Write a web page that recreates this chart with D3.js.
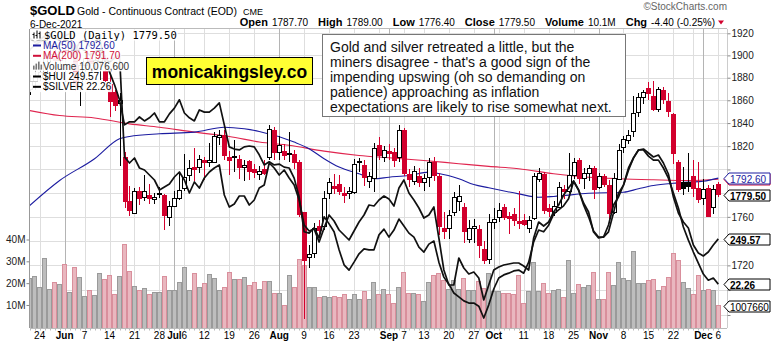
<!DOCTYPE html>
<html><head><meta charset="utf-8">
<script src="https://cdn.jsdelivr.net/npm/d3@7"></script>
<style>
body{margin:0;background:#fff}
svg{display:block;font-family:Arial,"Liberation Sans",sans-serif}
</style></head>
<body><svg id="c" width="774" height="344"></svg>
<script>
// ---------- DATA ----------
const dates = [
"2021-05-20","2021-05-21","2021-05-24","2021-05-25","2021-05-26","2021-05-27","2021-05-28",
"2021-06-01","2021-06-02","2021-06-03","2021-06-04","2021-06-07","2021-06-08","2021-06-09","2021-06-10","2021-06-11",
"2021-06-14","2021-06-15","2021-06-16","2021-06-17","2021-06-18","2021-06-21","2021-06-22","2021-06-23","2021-06-24","2021-06-25",
"2021-06-28","2021-06-29","2021-06-30",
"2021-07-01","2021-07-02","2021-07-06","2021-07-07","2021-07-08","2021-07-09","2021-07-12","2021-07-13","2021-07-14","2021-07-15","2021-07-16",
"2021-07-19","2021-07-20","2021-07-21","2021-07-22","2021-07-23","2021-07-26","2021-07-27","2021-07-28","2021-07-29","2021-07-30",
"2021-08-02","2021-08-03","2021-08-04","2021-08-05","2021-08-06","2021-08-09","2021-08-10","2021-08-11","2021-08-12","2021-08-13",
"2021-08-16","2021-08-17","2021-08-18","2021-08-19","2021-08-20","2021-08-23","2021-08-24","2021-08-25","2021-08-26","2021-08-27",
"2021-08-30","2021-08-31",
"2021-09-01","2021-09-02","2021-09-03","2021-09-07","2021-09-08","2021-09-09","2021-09-10","2021-09-13","2021-09-14","2021-09-15",
"2021-09-16","2021-09-17","2021-09-20","2021-09-21","2021-09-22","2021-09-23","2021-09-24","2021-09-27","2021-09-28","2021-09-29","2021-09-30",
"2021-10-01","2021-10-04","2021-10-05","2021-10-06","2021-10-07","2021-10-08","2021-10-11","2021-10-12","2021-10-13","2021-10-14","2021-10-15",
"2021-10-18","2021-10-19","2021-10-20","2021-10-21","2021-10-22","2021-10-25","2021-10-26","2021-10-27","2021-10-28","2021-10-29",
"2021-11-01","2021-11-02","2021-11-03","2021-11-04","2021-11-05","2021-11-08","2021-11-09","2021-11-10","2021-11-11","2021-11-12",
"2021-11-15","2021-11-16","2021-11-17","2021-11-18","2021-11-19","2021-11-22","2021-11-23","2021-11-24","2021-11-26","2021-11-29","2021-11-30",
"2021-12-01","2021-12-02","2021-12-03","2021-12-06"];

const open = [1870,1877,1881,1884,1898,1901,1896,1905,1903,1909,1872,1891,1898,1893,1895,1886,1874,1867,1858,1811,
1773,1763,1782,1777,1778,1775,1779.5,1778,1759.5,1769,1776,1784,1795,1802,1802.5,1808,1806.5,1806.5,1828,1830,
1811,1810.5,1809,1802.5,1807.5,1800.5,1796,1800,1811,1834,1815,1816,1813,1813.5,1806,1764,1727,1730,1752,1752,
1780,1786,1788,1780,1780,1781,1806,1804,1790,1793,1821,1811,1816,1815,1811,1834,1796,1790,1794,1789,
1793.5,1806,1794,1751,1750.5,1764,1773.6,1768,1742,1751,1750,1733,1725.5,1756,1759.5,1768.6,1760.5,1762,1756.5,1757,
1751,1759,1792,1796,1767,1764,1768,1783,1782,1795,1808,1793,1797,1801,1785,1794,1787,1764,1792,1819,
1825,1833,1850,1863,1871,1864,1852,1869,1859,1848,1806,1789,1789,1794,1784,1776,1784,1768,1787.7];
const high = [1882,1890,1889,1900,1913,1905,1906,1916,1911,1910,1892,1903,1903,1902,1904,1900,1882,1869,1866,1815,
1786,1784,1785,1795,1788,1780,1785,1779,1773,1782,1797,1813,1808,1818,1812,1811,1823,1832,1834,1834,
1816,1825,1812,1808,1808,1805,1803,1808,1838,1837,1829,1822,1832,1817,1808,1764,1737,1755,1757,1782,
1793,1796,1795,1785,1785,1809,1810,1808,1798,1823,1828,1820,1822,1818,1838,1836,1800,1803,1801,1796,
1810,1811,1797,1764,1766,1781,1787,1772,1757,1758,1753,1740,1762,1767,1772,1771,1764,1767,1782,1762,
1761,1797,1801,1798,1771,1773,1789,1787,1814,1810,1810,1801,1804,1803,1797,1796,1791,1797,1822,1829,
1834,1864,1866,1869,1876,1877,1872,1872,1866,1849,1808,1802,1814,1808,1806,1792,1787,1787,1789];
const low = [1865,1869,1877,1880,1893,1885,1890,1896,1899,1868,1855,1886,1888,1888,1878,1876,1845,1851,1803,1767,
1761,1762,1770,1773,1771,1771,1776,1749,1752,1768,1774,1782,1790,1790,1797,1791,1802,1806,1821,1808,
1795,1798,1792,1790,1791,1793,1791,1795,1808,1808,1808,1808,1806,1800,1760,1677,1718,1726,1745,1749,
1775,1779,1778,1772,1775,1779,1798,1786,1784,1781,1808,1806,1808,1802,1806,1794,1785,1787,1785,1782,
1785,1790,1745,1742,1742,1761,1765,1738,1738,1738,1726,1721,1721,1750,1756,1757,1746,1752,1750,1752,
1747,1757,1789,1762,1760,1761,1767,1775,1780,1792,1788,1783,1790,1775,1783,1785,1758,1762,1791,1814,
1822,1828,1845,1857,1860,1851,1850,1857,1845,1805,1781,1778,1781,1777,1772,1770,1760,1762,1776.4];
const close = [1877,1881,1885,1898,1901,1896,1904,1903,1908,1873,1891,1898,1893,1896,1899,1878,1859,1856,1860,1773,
1766,1782,1776,1782,1776,1777,1780,1761.5,1769.5,1776,1782.5,1793.5,1801.5,1800,1809,1806,1808.5,1829,1830,1812,
1808,1811.5,1802,1804,1799,1797.7,1799,1797,1835,1815,1821,1812.5,1814,1806.5,1762,1724,1729,1751,1749,1776,
1789,1784,1782,1778,1781.5,1805,1807,1793.5,1794,1818,1812,1817,1814,1808,1834,1797,1792,1798.5,1789.5,1793,
1806,1795,1752.5,1748,1761.5,1777,1777.4,1748,1750.5,1752,1737,1724,1756,1758,1765.5,1759.5,1759,1757,1755,1754,
1757,1794,1797,1766,1764.5,1769.5,1785,1781.5,1795.5,1806,1793,1797,1801,1783,1794,1788,1763,1793,1817,1826,
1830,1849,1863,1867,1866.5,1852.5,1870,1861,1851,1814,1783,1784.5,1786,1784,1775,1783,1761,1783,1779.5];
// volume in millions
const volume = [22.3,23.2,18.2,31.5,17.3,20.3,19.6,28.8,15.8,27.3,22.8,14.1,16.8,14.5,24.6,21.7,23.6,15.1,23.2,38,
25.7,18.6,17,17.7,15.1,15.9,15.9,23.2,17,17,20.4,27.3,17,24.6,18.2,20.2,24.1,22.2,17,18.2,
25.2,21.8,21.8,23,19.1,20.3,17.3,21.2,21.1,15.4,15.4,10.1,23.8,18.2,31,28.4,18.2,18.2,13.6,14.2,
13.6,14.2,13.6,14.9,12.7,15.1,12.7,16.2,12.7,20.3,14.9,17.3,14.9,10.8,18.2,25.2,15.7,15.7,14.9,12,
20.3,23.8,24.6,21.5,17.3,21.5,17.3,22.3,17,17,21.2,17.7,24.6,16.2,16.2,15.4,15.4,14.9,23.8,11.1,
16.2,29.9,16.2,20,15.4,17,17.3,13.6,30.7,15.4,19.7,18.2,19,25.3,12.7,12.7,25.3,19,29.5,22.3,
21.5,34.8,20,20,21.5,21.8,17,18.5,23,34,30.7,20.3,18,14.9,23.8,17,17.3,17,10.08];
const hui = [344,346.5,348,349,346.5,345,346.5,349,348,339,345,344,341.5,343,344,340,338,340,341.5,290.5,
287.5,290,285,284,281.5,279,274,275.5,277,280.5,283,279,272.5,278,275,280,283,285,286.5,271.5,
265.5,267,271,271,266.5,269,275,276.5,287.5,285,281.5,284,280,276.5,269,256.5,253.5,254.5,248,255,
261.5,258.5,254,251.5,249,253.5,258,261.5,266.5,266,269,271,269.5,266,275,279,272.5,269,265,260,
261.5,265.5,250,234,226.5,226.5,240,235,232,233,230,219,226.5,234,235.5,236.5,237,237.5,237.5,236,
234,250,258,256,258,263,266.5,271.5,275,278.5,274,267.5,263,253,250,250.5,256.5,266.5,270.5,276.5,
285,290,294,294.5,292.5,290.5,291.5,287.5,282,270.5,262.5,258,255,246.5,242.5,241,243,246.5,249.57];
const silver = [27.85,27.76,27.81,27.9,27.95,27.85,27.81,27.9,27.95,27.54,27.76,27.81,27.67,27.76,27.85,27.35,27.08,26.79,26.45,25.88,
25.95,25.95,26.06,25.97,26.04,26.15,25.95,25.95,26.13,26.26,26.45,26.15,26.04,25.97,26.22,26.17,26.17,26.26,26.38,25.88,
25.38,25.33,25.31,25.38,25.4,25.38,25.2,24.97,25.04,24.97,24.99,24.92,24.9,24.67,24.24,23.45,23.42,23.54,23.31,23.79,
23.63,23.45,23.04,22.7,22.58,22.76,22.95,23.06,23.04,23.04,23.38,23.51,23.33,23.49,23.74,23.58,23.42,23.33,23.1,22.99,
23.17,23.24,22.76,22.42,22.26,22.06,21.97,21.88,21.83,21.83,21.76,21.49,21.79,22.15,22.4,22.47,22.51,22.56,22.58,22.51,
22.76,23.22,23.49,23.45,23.6,23.85,23.95,24.04,24.2,24.6,24.4,24.06,23.79,23.47,23.33,23.33,23.45,23.88,24.33,24.51,
24.85,25.13,25.31,25.31,25.17,25.08,25.08,24.9,24.67,24.33,23.99,23.56,23.26,22.99,22.74,22.49,22.35,22.4,22.26];
const ma50Dates = ["2021-05-20","2021-05-28","2021-06-09","2021-06-16","2021-06-18","2021-06-28","2021-07-08","2021-07-16","2021-07-22","2021-07-27",
"2021-08-05","2021-08-10","2021-08-13","2021-08-18","2021-08-24","2021-08-27","2021-09-01","2021-09-08","2021-09-14","2021-09-16","2021-09-22",
"2021-09-27","2021-09-30","2021-10-08","2021-10-14","2021-10-19","2021-10-28","2021-11-08","2021-11-11","2021-11-16","2021-11-22","2021-11-26",
"2021-12-01","2021-12-06"];
const ma50 = [1769.5,1790.6,1809.2,1826.4,1828.4,1830.7,1832.1,1836.4,1835,1832.7,1823.5,1817.8,1809.2,1802,1796.3,1792.1,1793.4,1794.9,1797.7,1796.6,
1792.1,1787.2,1784.4,1779.3,1776.5,1777.1,1779.8,1780.7,1783.6,1786.4,1788.3,1789.2,1790,1792.6];
const ma200Dates = ["2021-05-20","2021-05-28","2021-06-09","2021-06-18","2021-06-28","2021-07-08","2021-07-19","2021-07-27","2021-08-04","2021-08-13",
"2021-08-24","2021-09-01","2021-09-13","2021-09-22","2021-09-30","2021-10-08","2021-10-19","2021-10-28","2021-11-05","2021-11-16","2021-11-26","2021-12-06"];
const ma200 = [1851,1846.6,1844.5,1839.3,1836.4,1832.1,1828.4,1823.6,1820.7,1815.7,1812,1810,1807.7,1804.9,1802.6,1800.6,1796.3,1793.4,1792.1,1791.2,1790.6,1791.7];
const priceTicks = [1680,1700,1720,1740,1760,1780,1800,1820,1840,1860,1880,1900,1920];
const volTicks = [10,20,30,40];
const tickDates = ["2021-05-24","2021-06-01","2021-06-07","2021-06-14","2021-06-21","2021-06-28","2021-07-01","2021-07-06","2021-07-12","2021-07-19",
"2021-07-26","2021-08-02","2021-08-09","2021-08-16","2021-08-23","2021-09-01","2021-09-07","2021-09-13","2021-09-20","2021-09-27",
"2021-10-01","2021-10-11","2021-10-18","2021-10-25","2021-11-01","2021-11-08","2021-11-15","2021-11-22","2021-12-01","2021-12-06"];
const tickLabels = ["24","Jun","7","14","21","28","Jul","6","12","19","26","Aug","9","16","23","Sep","7","13","20","27",
"Oct","11","18","25","Nov","8","15","22","Dec","6"];
const monthTicks = ["Jun","Jul","Aug","Sep","Oct","Nov","Dec"];
const extraGridDates = ["2021-08-30","2021-10-04","2021-11-29"];
const quote = [["Open","1787.70"],["High","1789.00"],["Low","1776.40"],["Close","1779.50"],["Volume","10.1M"],["Chg","-4.40 (-0.25%)"]];
const noteLines = ["Gold and silver retreated a little, but the",
"miners disagree - that's a good sign of the",
"impending upswing (oh so demanding on",
"patience) approaching as inflation",
"expectations are likely to rise somewhat next."];

// ---------- CHART ----------
const svg = d3.select("#c");
const P = {l:30, r:727, t:29, b:328};
const x = d3.scalePoint().domain(dates).range([29.7, 718.3]);
const yP = d3.scaleLog().domain([1680,1920]).range([315,33.3]);
const yV = d3.scaleLinear().domain([0,40]).range([326.8,239.5]);
const yH = d3.scaleLinear().domain([210,353]).range([318,32]);
const yS = d3.scaleLinear().domain([21.4,27.9]).range([322,36]);
const RED = "#d2002d";
const FONT = "Arial,'Liberation Sans',sans-serif";

svg.append("rect").attr("width",774).attr("height",344).attr("fill","#fff");
svg.append("defs").append("clipPath").attr("id","clip").append("rect")
  .attr("x",P.l).attr("y",P.t).attr("width",P.r-P.l).attr("height",P.b-P.t);

// header
svg.append("text").attr("x",30).attr("y",15).attr("font-size",13).attr("font-weight","bold").text("$GOLD");
const ttl = svg.append("text").attr("x",77).attr("y",15).attr("font-size",10.5).text("Gold - Continuous Contract (EOD)");
svg.append("text").attr("x",77+ttl.node().getComputedTextLength()+6).attr("y",15).attr("font-size",9).text("CME");
svg.append("text").attr("x",30).attr("y",28).attr("font-size",10).text("6-Dec-2021");
svg.append("text").attr("x",727).attr("y",10).attr("font-size",10).attr("fill","#666").attr("text-anchor","end").text("\u00a9StockCharts.com");
// quote line, right-aligned ending at the red triangle
(function(){
  const gq = svg.append("g");
  const items = [];
  quote.forEach(([a,b])=>{
    items.push(gq.append("text").attr("y",26).attr("font-size",11).attr("font-weight","bold").text(a));
    items.push(gq.append("text").attr("y",26).attr("font-size",10).text(b));
  });
  const gapIn = 4, gapOut = 10;
  let total = 0;
  const ws = items.map(t=>t.node().getComputedTextLength());
  ws.forEach((w,k)=>{ total += w + (k===ws.length-1?0:(k%2===0?gapIn:gapOut)); });
  let cx = 715 - total;
  items.forEach((t,k)=>{ t.attr("x",cx); cx += ws[k] + (k%2===0?gapIn:gapOut); });
})();
svg.append("path").attr("d","M718,20.5 L724,20.5 L721,24.5 Z").attr("fill",RED);

// grid
const g = svg.append("g");
g.selectAll(".hg").data(priceTicks).join("line")
  .attr("x1",P.l).attr("x2",P.r).attr("y1",d=>Math.round(yP(d))+.5).attr("y2",d=>Math.round(yP(d))+.5)
  .attr("stroke","#dedede");
const vgrid = tickDates.map((d,i)=>({d, m: monthTicks.includes(tickLabels[i])})).concat(extraGridDates.map(d=>({d,m:false})));
g.selectAll(".vg").data(vgrid).join("line")
  .attr("x1",d=>Math.round(x(d.d))+.5).attr("x2",d=>Math.round(x(d.d))+.5).attr("y1",P.t).attr("y2",P.b)
  .attr("stroke",d=>d.m?"#b4b4b4":"#dedede");

const plot = svg.append("g").attr("clip-path","url(#clip)");
const up = close.map((c,i)=> i===0 ? true : c >= close[i-1]);
// volume
plot.selectAll(".vol").data(dates).join("rect")
  .attr("x",d=>Math.round(x(d)-2.5)+.5).attr("width",4)
  .attr("y",(d,i)=>Math.round(yV(volume[i]))+.5).attr("height",(d,i)=>yV(0)-Math.round(yV(volume[i]))+2)
  .attr("fill",(d,i)=>up[i]?"#bdbdbd":"#e9b7bf").attr("stroke",(d,i)=>up[i]?"#9a9a9a":"#d98f9c");

// moving averages
const lineMA = (ds,vs)=>d3.line().curve(d3.curveMonotoneX).x((d,i)=>x(ds[i])).y(d=>yP(d))(vs);
plot.append("path").attr("d",lineMA(ma200Dates,ma200)).attr("fill","none").attr("stroke","#e0254f").attr("stroke-width",1.1);
plot.append("path").attr("d",lineMA(ma50Dates,ma50)).attr("fill","none").attr("stroke","#1c1ca0").attr("stroke-width",1.1);

// candles
const cg = plot.append("g").attr("shape-rendering","crispEdges");
dates.forEach((d,i)=>{
  const cx = Math.round(x(d));
  const col = up[i] ? "#000" : RED;
  cg.append("line").attr("x1",cx+.5).attr("x2",cx+.5).attr("y1",yP(high[i])).attr("y2",yP(low[i])).attr("stroke",col);
  const top = Math.round(yP(Math.max(open[i],close[i])));
  const bot = Math.round(yP(Math.min(open[i],close[i])));
  const filled = close[i] < open[i];
  cg.append("rect").attr("x",cx-1.5).attr("width",4).attr("y",top+.5).attr("height",Math.max(1,bot-top))
    .attr("fill",filled?col:"#fff").attr("stroke",col);
});

// overlays
const ov = (vals,sc)=>d3.line().x((d,i)=>x(dates[i])).y(d=>sc(d))(vals);
plot.append("path").attr("d",ov(hui,yH)).attr("fill","none").attr("stroke","#111").attr("stroke-width",1.7).attr("stroke-linejoin","round");
plot.append("path").attr("d",ov(silver,yS)).attr("fill","none").attr("stroke","#111").attr("stroke-width",1.7).attr("stroke-linejoin","round");

// frame
svg.append("line").attr("x1",P.l-.5).attr("x2",P.l-.5).attr("y1",P.t).attr("y2",P.b).attr("stroke","#999");
svg.append("line").attr("x1",P.l).attr("x2",P.r).attr("y1",P.t-.5).attr("y2",P.t-.5).attr("stroke","#bbb");
svg.append("line").attr("x1",P.r+.5).attr("x2",P.r+.5).attr("y1",P.t).attr("y2",P.b).attr("stroke","#ccc");
svg.append("line").attr("x1",P.l).attr("x2",P.r).attr("y1",P.b+.5).attr("y2",P.b+.5).attr("stroke","#bbb");

// value boxes (last values)
const boxes = [
 {y:yP(1791.70), c:"#d0103a", bold:false, t:"1791.70"},
 {y:yP(1792.60), c:"#1c1ca0", bold:false, t:"1792.60"},
 {y:yP(1779.50)+1.5, c:"#000", bold:true, t:"1779.50"},
 {y:yH(249.57), c:"#000", bold:true, t:"249.57"},
 {y:yS(22.26), c:"#000", bold:true, t:"22.26"},
 {y:yV(10.0766)+1.5, c:"#000", bold:false, t:"1007660"}];

// right price axis (labels hidden where a value box sits on top)
const ra = svg.append("g").attr("transform",`translate(${P.r+.5},0)`)
  .call(d3.axisRight(yP).tickValues(priceTicks).tickSize(3).tickPadding(1).tickFormat(d3.format("d")));
ra.select(".domain").remove();
ra.selectAll("line").attr("stroke","#888");
ra.selectAll("text").attr("font-size",10).attr("font-family",FONT).attr("fill","#222")
  .attr("display",d=>boxes.some(b=>Math.abs(b.y-yP(d))<9)?"none":null);
// left volume axis
const la = svg.append("g").attr("transform",`translate(${P.l-.5},0)`)
  .call(d3.axisLeft(yV).tickValues(volTicks).tickSize(3).tickPadding(1).tickFormat(d=>d+"M"));
la.select(".domain").remove();
la.selectAll("line").attr("stroke","#888");
la.selectAll("text").attr("font-size",10).attr("font-family",FONT).attr("fill","#222");
// bottom labels
svg.selectAll(".xl").data(tickDates).join("text")
  .attr("x",d=>x(d)).attr("y",339).attr("text-anchor","middle").attr("font-size",10)
  .attr("font-weight",(d,i)=>monthTicks.includes(tickLabels[i])?"bold":"normal").text((d,i)=>tickLabels[i]);
svg.selectAll(".xt").data(dates).join("line")
  .attr("x1",d=>Math.round(x(d))+.5).attr("x2",d=>Math.round(x(d))+.5).attr("y1",P.b+1).attr("y2",P.b+2.5).attr("stroke","#bbb");

// legend
const leg = svg.append("g");
const legItems = [
 {t:"$GOLD (Daily) 1779.50", c:"#000", mono:true, icon:"bars"},
 {t:"MA(50) 1792.60", c:"#1c1ca0", icon:"dash"},
 {t:"MA(200) 1791.70", c:"#d0103a", icon:"dash"},
 {t:"Volume 10,076,600", c:"#333", icon:"vol"},
 {t:"$HUI 249.57", c:"#000", icon:"dash"},
 {t:"$SILVER 22.26", c:"#000", icon:"dash"}];
const baseY = [38.5,49,59.3,69.6,80,90.3];
legItems.forEach((it,k)=>{
  const gy = baseY[k];
  const bg = leg.append("rect").attr("fill","#fff").attr("opacity",0.92);
  const tx = leg.append("text").attr("x",it.mono?44:43).attr("y",gy).attr("fill",it.c)
     .attr("font-size",it.mono?10.5:10).attr("font-family",it.mono?"'DejaVu Sans Mono',monospace":FONT).text(it.t);
  const w = tx.node().getComputedTextLength();
  bg.attr("x",30).attr("y",gy-(it.mono?9:8.5)).attr("width",(it.mono?44:43)+w-30+1).attr("height",it.mono?11:10.3);
  if(it.icon==="dash") leg.append("line").attr("x1",33).attr("x2",41).attr("y1",gy-3.5).attr("y2",gy-3.5).attr("stroke",it.c).attr("stroke-width",2);
  if(it.icon==="vol") [[33,4],[35.5,6],[38,8],[40.5,5]].forEach(([bx,bh])=>leg.append("rect").attr("x",bx).attr("y",gy-bh).attr("width",1.6).attr("height",bh).attr("fill","#777"));
  if(it.icon==="bars") [[34,6,2],[37,8,1],[40,7,3]].forEach(([bx,bh,o])=>{
     leg.append("line").attr("x1",bx).attr("x2",bx).attr("y1",gy-bh).attr("y2",gy).attr("stroke","#000");
     leg.append("line").attr("x1",bx-1.5).attr("x2",bx).attr("y1",gy-o-2).attr("y2",gy-o-2).attr("stroke","#000");});
});

// watermark
svg.append("rect").attr("x",146.5).attr("y",57.5).attr("width",166).attr("height",27).attr("fill","#ffff33").attr("stroke","#000");
svg.append("text").attr("x",229.5).attr("y",77.5).attr("text-anchor","middle").attr("font-size",17.5).attr("font-weight","bold").text("monicakingsley.co");

// annotation
svg.append("rect").attr("x",322.5).attr("y",34.5).attr("width",303).attr("height",82).attr("fill","#fff").attr("stroke","#777");
svg.selectAll(".note").data(noteLines).join("text").attr("x",330).attr("y",(d,i)=>52+i*15).attr("font-size",14).attr("fill","#111").text(d=>d);

// draw value boxes on top
boxes.forEach(b=>{
  const yy = Math.round(b.y)+.5;
  svg.append("path").attr("d",`M724,${yy} L729,${yy-5.5} L770,${yy-5.5} L770,${yy+5.5} L729,${yy+5.5} Z`)
    .attr("fill","#fff").attr("stroke",b.c);
  svg.append("text").attr("x",730).attr("y",yy+4).attr("font-size",10).attr("font-weight",b.bold?"bold":"normal").attr("fill",b.c).text(b.t);
});
</script></body></html>
